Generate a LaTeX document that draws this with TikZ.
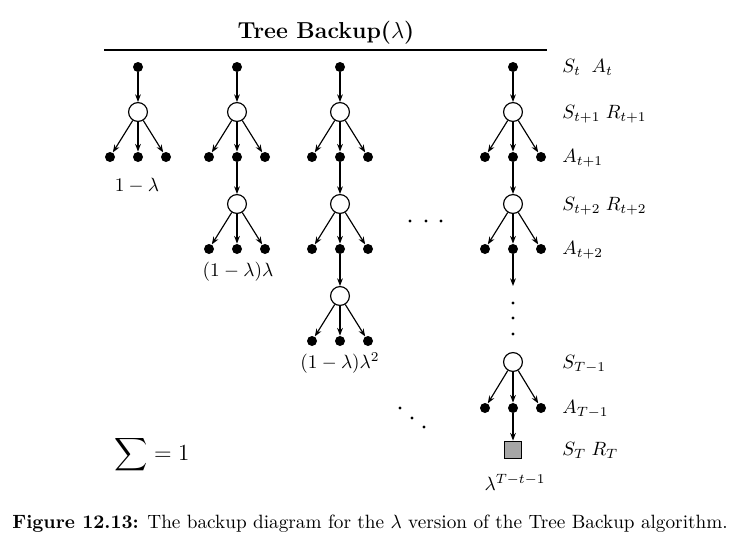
\documentclass[tikz,border=0pt]{standalone}
\usepackage{amsmath}
\usetikzlibrary{arrows.meta}
\begin{document}
\begin{tikzpicture}[x=0.52pt,y=-0.52pt,
  sdot/.style={circle,fill=black,inner sep=0pt,minimum size=5.2pt},
  snode/.style={circle,draw,line width=0.6pt,fill=white,inner sep=0pt,minimum size=9.8pt},
  term/.style={rectangle,draw,line width=0.6pt,fill=black!35,inner sep=0pt,minimum size=9.2pt},
  arr/.style={-{Stealth[length=4pt,width=3pt]},line width=0.6pt},
  lab/.style={anchor=west,inner sep=0pt},
  tiny/.style={circle,fill=black,inner sep=0pt,minimum size=1.7pt}]
\useasboundingbox (0,0) rectangle (739,552);
\node (title) at (326,33) {\large\bfseries Tree Backup($\lambda$)};
\coordinate (hl) at (104,50); \coordinate (hr) at (547,50);
\draw[line width=0.6pt] (hl) -- (hr);
% column 1
\node[sdot] (a0) at (138,67) {};
\node[snode] (a1) at (138,112) {};
\node[sdot] (a1l) at (110,157) {};
\node[sdot] (a1m) at (138,157) {};
\node[sdot] (a1r) at (166,157) {};
\draw[arr] (a0) -- (a1);
\foreach \t in {a1l,a1m,a1r} \draw[arr] (a1) -- (\t);
\node (la) at (137,186) {$1-\lambda$};
% column 2
\node[sdot] (b0) at (237,67) {};
\node[snode] (b1) at (237,112) {};
\node[sdot] (b1l) at (209,157) {};
\node[sdot] (b1m) at (237,157) {};
\node[sdot] (b1r) at (265,157) {};
\node[snode] (b2) at (237,204) {};
\node[sdot] (b2l) at (209,249) {};
\node[sdot] (b2m) at (237,249) {};
\node[sdot] (b2r) at (265,249) {};
\draw[arr] (b0) -- (b1);
\foreach \t in {b1l,b1m,b1r} \draw[arr] (b1) -- (\t);
\draw[arr] (b1m) -- (b2);
\foreach \t in {b2l,b2m,b2r} \draw[arr] (b2) -- (\t);
\node (lb) at (238,272) {$(1-\lambda)\lambda$};
% column 3
\node[sdot] (c0) at (340,67) {};
\node[snode] (c1) at (340,112) {};
\node[sdot] (c1l) at (312,157) {};
\node[sdot] (c1m) at (340,157) {};
\node[sdot] (c1r) at (368,157) {};
\node[snode] (c2) at (340,204) {};
\node[sdot] (c2l) at (312,249) {};
\node[sdot] (c2m) at (340,249) {};
\node[sdot] (c2r) at (368,249) {};
\node[snode] (c3) at (340,296) {};
\node[sdot] (c3l) at (312,341) {};
\node[sdot] (c3m) at (340,341) {};
\node[sdot] (c3r) at (368,341) {};
\draw[arr] (c0) -- (c1);
\foreach \t in {c1l,c1m,c1r} \draw[arr] (c1) -- (\t);
\draw[arr] (c1m) -- (c2);
\foreach \t in {c2l,c2m,c2r} \draw[arr] (c2) -- (\t);
\draw[arr] (c2m) -- (c3);
\foreach \t in {c3l,c3m,c3r} \draw[arr] (c3) -- (\t);
\node (lc) at (340,363) {$(1-\lambda)\lambda^2$};
% column 4
\node[sdot] (d0) at (513,67) {};
\node[snode] (d1) at (513,112) {};
\node[sdot] (d1l) at (485,157) {};
\node[sdot] (d1m) at (513,157) {};
\node[sdot] (d1r) at (541,157) {};
\node[snode] (d2) at (513,204) {};
\node[sdot] (d2l) at (485,249) {};
\node[sdot] (d2m) at (513,249) {};
\node[sdot] (d2r) at (541,249) {};
\coordinate (d2e) at (513,286);
\node[tiny] (v1) at (513,303) {};
\node[tiny] (v2) at (513,318) {};
\node[tiny] (v3) at (513,334) {};
\node[snode] (d3) at (513,362) {};
\node[sdot] (d3l) at (485,408) {};
\node[sdot] (d3m) at (513,408) {};
\node[sdot] (d3r) at (541,408) {};
\node[term] (dT) at (513,450) {};
\draw[arr] (d0) -- (d1);
\foreach \t in {d1l,d1m,d1r} \draw[arr] (d1) -- (\t);
\draw[arr] (d1m) -- (d2);
\foreach \t in {d2l,d2m,d2r} \draw[arr] (d2) -- (\t);
\draw[arr] (d2m) -- (d2e);
\foreach \t in {d3l,d3m,d3r} \draw[arr] (d3) -- (\t);
\draw[arr] (d3m) -- (dT);
\node (ld) at (515,482) {$\lambda^{T-t-1}$};
% ellipses
\node[tiny] (h1) at (410,221) {};
\node[tiny] (h2) at (426,221) {};
\node[tiny] (h3) at (441,221) {};
\node[tiny] (g1) at (400,408) {};
\node[tiny] (g2) at (412,418) {};
\node[tiny] (g3) at (424,427) {};
% right labels
\node[lab] (r0) at (562,67) {$S_t\;\;A_t$};
\node[lab] (r1) at (562,114) {$S_{t+1}\;R_{t+1}$};
\node[lab] (r2) at (562,158) {$A_{t+1}$};
\node[lab] (r3) at (562,206) {$S_{t+2}\;R_{t+2}$};
\node[lab] (r4) at (562,250) {$A_{t+2}$};
\node[lab] (r5) at (562,364) {$S_{T-1}$};
\node[lab] (r6) at (562,409) {$A_{T-1}$};
\node[lab] (r7) at (562,450) {$S_T\;R_T$};
% sum
\node (sum) at (152,455) {\large$\displaystyle\sum=1$};
% caption
\node (cap) at (370,524) {\textbf{Figure 12.13:} The backup diagram for the $\lambda$ version of the Tree Backup algorithm.};
\end{tikzpicture}
\end{document}
